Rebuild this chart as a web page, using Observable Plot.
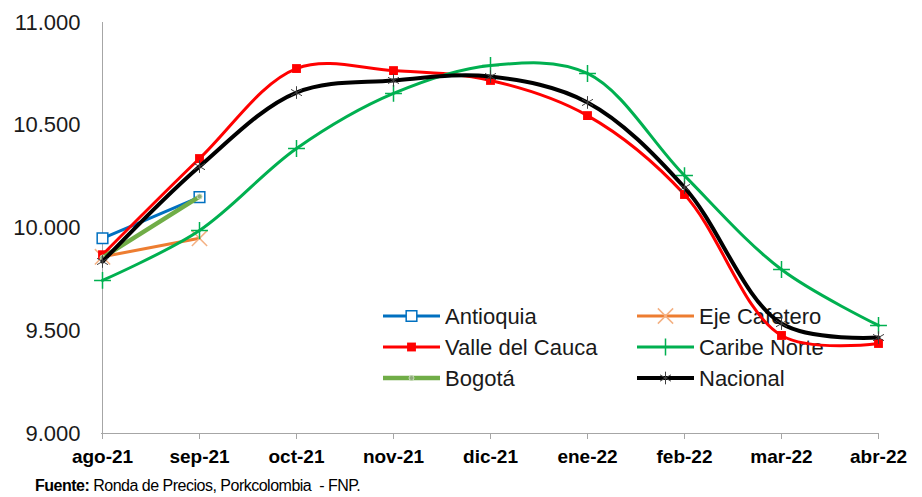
<!DOCTYPE html>
<html>
<head>
<meta charset="utf-8">
<script src="https://cdn.jsdelivr.net/npm/d3@7"></script>
<script src="https://cdn.jsdelivr.net/npm/@observablehq/plot@0.6"></script>
<style>
  html, body { margin: 0; padding: 0; background: #fff; }
  #wrap { position: relative; width: 922px; height: 497px; overflow: hidden; }
  #legend { position: absolute; left: 0; top: 0; z-index: 0; }
  #chart { position: absolute; left: 0; top: 0; z-index: 1; }
  #caption { position: absolute; left: 35px; top: 477px; font-family: "Liberation Sans Narrow", "Arial Narrow", "Liberation Sans", sans-serif; font-size: 16px; letter-spacing: -0.5px; color: #000; z-index: 2; white-space: pre; }
</style>
</head>
<body>
<div id="wrap">
  <svg id="legend" width="922" height="497"></svg>
  <div id="chart"></div>
  <div id="caption"><b>Fuente:</b> Ronda de Precios, Porkcolombia  - FNP.</div>
</div>
<script>
const months = ["ago-21","sep-21","oct-21","nov-21","dic-21","ene-22","feb-22","mar-22","abr-22"];
const yTicks = [9000, 9500, 10000, 10500, 11000];

const antioquia    = [9950, 10150];
const ejeCafetero  = [9860, 9950];
const valleDelCauca = [9870, 10338, 10776, 10766, 10718, 10547, 10163, 9477, 9438];
const caribeNorte  = [9745, 9988, 10387, 10655, 10791, 10752, 10255, 9798, 9526];
const bogota       = [9856, 10153];
const nacional     = [9837, 10299, 10659, 10718, 10737, 10611, 10197, 9535, 9467];

const seriesNames = ["Antioquia","Eje Cafetero","Valle del Cauca","Caribe Norte","Bogotá","Nacional"];
const seriesValues = [antioquia, ejeCafetero, valleDelCauca, caribeNorte, bogota, nacional];

const styles = {
  "Antioquia":      {color:"#0070C0", width:3,   symbol:"square",   r:6,   fill:"#fff",    stroke:"#0070C0", sw:1.5},
  "Eje Cafetero":   {color:"#ED7D31", width:3,   symbol:"times",    r:7,   fill:"none",    stroke:"#F4B183", sw:1.5},
  "Valle del Cauca":{color:"#FF0000", width:3,   symbol:"square",   r:5,   fill:"#FF0000", stroke:"none",    sw:0},
  "Caribe Norte":   {color:"#00B050", width:3,   symbol:"plus",     r:5.5, fill:"none",    stroke:"#00B050", sw:1.5},
  "Bogotá":         {color:"#70AD47", width:4.5, symbol:"circle",   r:2.5, fill:"#8faa7c", stroke:"#c5dcb5", sw:1},
  "Nacional":       {color:"#000000", width:4,   symbol:"asterisk", r:6,   fill:"none",    stroke:"#404040", sw:1}
};

const rows = seriesNames.map((name, i) =>
  seriesValues[i].map((v, j) => ({series: name, month: months[j], value: v}))
);

const esLocale = d3.formatLocale({decimal: ",", thousands: ".", grouping: [3], currency: ["$", ""]});
const fmt = esLocale.format(",");

const marks = [
  Plot.ruleX([months[0]], {stroke: "#a6a6a6", strokeWidth: 1}),
  Plot.ruleY([9000], {stroke: "#a6a6a6", strokeWidth: 1}),
  Plot.axisY({ticks: yTicks, tickFormat: fmt, tickSize: 0, tickPadding: 21, fontSize: 22, fill: "#1a1a1a", fontFamily: "Liberation Sans, Arial, sans-serif"}),
  Plot.axisX({tickSize: 6, tickPadding: 10, stroke: "#a6a6a6", fill: "#000", fontSize: 19, fontWeight: "bold", fontFamily: "Liberation Sans Narrow, Arial Narrow, Liberation Sans, sans-serif"})
];
seriesNames.forEach((name, i) => {
  const s = styles[name];
  marks.push(Plot.line(rows[i], {x: "month", y: "value", stroke: s.color, strokeWidth: s.width, curve: "catmull-rom"}));
  marks.push(Plot.dot(rows[i], {x: "month", y: "value", symbol: s.symbol, r: s.r, fill: s.fill, stroke: s.stroke, strokeWidth: s.sw}));
});

const chart = Plot.plot({
  width: 922,
  height: 470,
  marginLeft: 101,
  marginRight: 44,
  marginTop: 22,
  marginBottom: 37,
  style: {background: "transparent", fontFamily: "Liberation Sans, Arial, sans-serif"},
  x: {type: "point", domain: months, padding: 0, label: null},
  y: {domain: [9000, 11000], label: null},
  marks
});
document.getElementById("chart").appendChild(chart);

// Legend (two columns, three rows) drawn behind the chart lines
const leg = d3.select("#legend");
const colX = [383, 637];
const rowY = [316, 347, 378];
const symMap = {square: d3.symbolSquare, times: d3.symbolTimes, plus: d3.symbolPlus, asterisk: d3.symbolAsterisk, circle: d3.symbolCircle};
seriesNames.forEach((name, i) => {
  const s = styles[name];
  const x0 = colX[i % 2], y0 = rowY[Math.floor(i / 2)];
  const g = leg.append("g").attr("transform", `translate(${x0},${y0})`);
  g.append("line").attr("x1", 0).attr("x2", 57).attr("y1", 0).attr("y2", 0)
    .attr("stroke", s.color).attr("stroke-width", s.width);
  g.append("path").attr("transform", "translate(28.5,0)")
    .attr("d", d3.symbol(symMap[s.symbol], Math.PI * s.r * s.r)())
    .attr("fill", s.fill).attr("stroke", s.stroke).attr("stroke-width", s.sw);
  g.append("text").attr("x", 62).attr("y", 0).attr("dy", "0.35em")
    .attr("font-family", "Liberation Sans, Arial, sans-serif").attr("font-size", 22)
    .attr("fill", "#1a1a1a").text(name);
});
</script>
</body>
</html>
